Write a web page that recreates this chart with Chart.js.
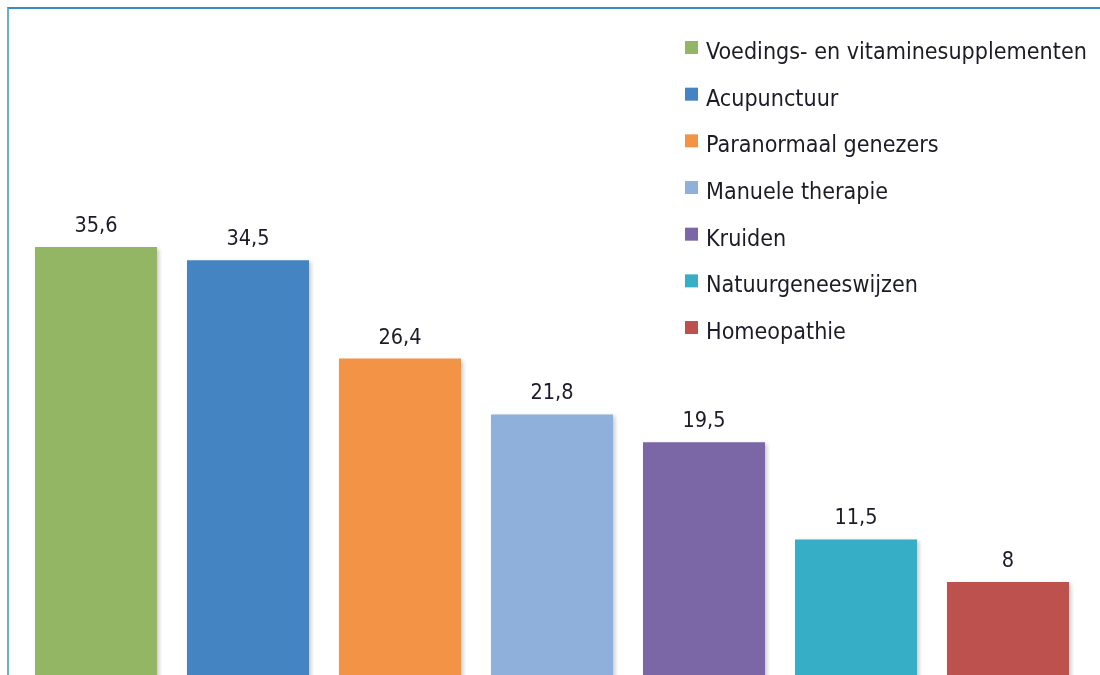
<!DOCTYPE html>
<html>
<head>
    <title>Alternatieve behandelingen</title>
    <script src="https://cdn.jsdelivr.net/npm/chart.js"></script>
    <style>
        html, body {
            margin: 0;
            padding: 0;
            background: #fff;
            overflow: hidden;
        }
        .frame {
            position: absolute;
            left: 7px;
            top: 7px;
            width: 1093px;
            height: 668px;
            border-top: 2px solid #3a8bc6;
            border-left: 2px solid #62b0de;
            pointer-events: none;
            z-index: 2;
        }
        .chart-box {
            position: absolute;
            left: 0;
            top: 0;
            width: 1100px;
            height: 700px;
        }
    </style>
</head>
<body>
    <div class="frame"></div>
    <div class="chart-box">
        <canvas id="barChart"></canvas>
    </div>

    <script>
        const categories = [
            'Voedings- en vitaminesupplementen',
            'Acupunctuur',
            'Paranormaal genezers',
            'Manuele therapie',
            'Kruiden',
            'Natuurgeneeswijzen',
            'Homeopathie'
        ];
        const values = [35.6, 34.5, 26.4, 21.8, 19.5, 11.5, 8];
        const valueLabels = ['35,6', '34,5', '26,4', '21,8', '19,5', '11,5', '8'];
        const barColors = ['#92b663', '#4584c3', '#f29346', '#8fb0da', '#7c67a6', '#36aec6', '#bd514e'];

        const textColor = '#1c1c28';
        const fontFamily = '"Liberation Sans Narrow", "DejaVu Sans Condensed", sans-serif';

        // pick a font size so a string fits a given width
        function fitSize(ctx, text, width, start) {
            ctx.font = start + 'px ' + fontFamily;
            return start * width / ctx.measureText(text).width;
        }

        // soft drop shadow under the bars
        const barShadow = {
            id: 'barShadow',
            beforeDatasetsDraw(chart) {
                const ctx = chart.ctx;
                ctx.save();
                ctx.shadowColor = 'rgba(0, 0, 0, 0.22)';
                ctx.shadowBlur = 4;
                ctx.shadowOffsetX = 2;
                ctx.shadowOffsetY = 2;
            },
            afterDatasetsDraw(chart) {
                chart.ctx.restore();
            }
        };

        // value above each bar
        const valueText = {
            id: 'valueText',
            afterDraw(chart) {
                const ctx = chart.ctx;
                const meta = chart.getDatasetMeta(0);
                ctx.save();
                const size = fitSize(ctx, '35,6', 43, 25);
                ctx.fillStyle = textColor;
                ctx.font = size.toFixed(1) + 'px ' + fontFamily;
                ctx.textAlign = 'center';
                ctx.textBaseline = 'alphabetic';
                meta.data.forEach((bar, i) => {
                    ctx.fillText(valueLabels[i], bar.x, bar.y - 15);
                });
                ctx.restore();
            }
        };

        // legend list in the top right corner
        const sideLegend = {
            id: 'sideLegend',
            afterDraw(chart) {
                const ctx = chart.ctx;
                ctx.save();
                const size = fitSize(ctx, categories[0], 381, 25);
                ctx.font = size.toFixed(1) + 'px ' + fontFamily;
                ctx.textBaseline = 'alphabetic';
                categories.forEach((name, i) => {
                    const top = 41 + i * 46.67;
                    ctx.fillStyle = barColors[i];
                    ctx.fillRect(685, top, 13, 13);
                    ctx.fillStyle = textColor;
                    ctx.fillText(name, 706, top + 18);
                });
                ctx.restore();
            }
        };

        const ctx = document.getElementById('barChart').getContext('2d');
        new Chart(ctx, {
            type: 'bar',
            data: {
                labels: categories,
                datasets: [{
                    data: values,
                    backgroundColor: barColors,
                    borderWidth: 0,
                    categoryPercentage: 1,
                    barPercentage: 0.8026
                }]
            },
            options: {
                responsive: true,
                maintainAspectRatio: false,
                animation: false,
                layout: {
                    padding: { left: 20, right: 16, top: 193.5, bottom: 21 }
                },
                plugins: {
                    legend: { display: false },
                    tooltip: { enabled: false }
                },
                scales: {
                    x: { display: false },
                    y: { display: false, min: 0, max: 40 }
                }
            },
            plugins: [barShadow, valueText, sideLegend]
        });
    </script>
</body>
</html>
